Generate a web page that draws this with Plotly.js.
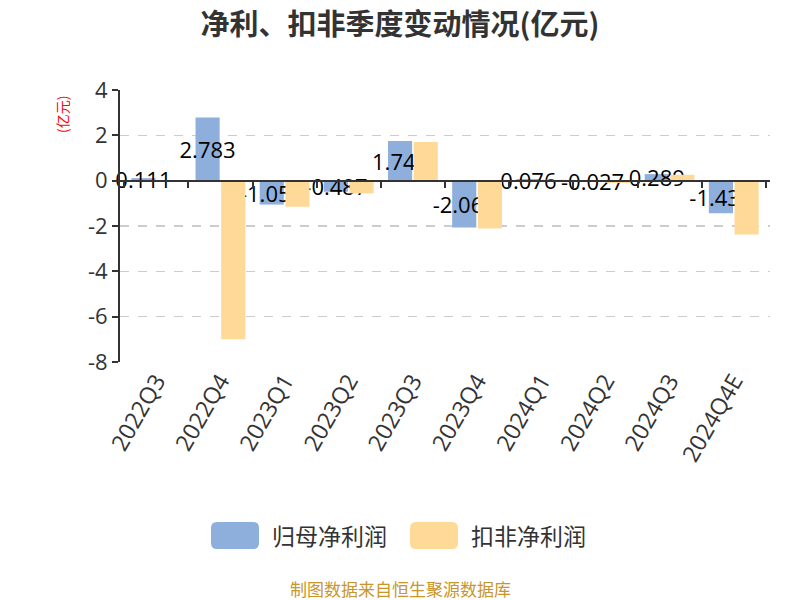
<!DOCTYPE html>
<html>
<head>
<meta charset="utf-8">
<script src="https://cdn.plot.ly/plotly-3.0.1.min.js"></script>
<style>
  body { margin: 0; background: #fff; }
  #chart { width: 800px; height: 600px; }
</style>
</head>
<body>
<div id="chart"></div>
<script>
var quarters = ['2022Q3', '2022Q4', '2023Q1', '2023Q2', '2023Q3', '2023Q4', '2024Q1', '2024Q2', '2024Q3', '2024Q4E'];
var netProfit = [0.111, 2.783, -1.054, -0.487, 1.745, -2.068, 0.076, -0.027, 0.289, -1.436];   // 归母净利润
var deductedProfit = [0.02, -7.0, -1.15, -0.56, 1.71, -2.11, 0.04, -0.10, 0.26, -2.38];     // 扣非净利润
var yTicks = [4, 2, 0, -2, -4, -6, -8];
var seriesNames = ['归母净利润', '扣非净利润'];
var seriesColors = ['#8eaedb', '#ffd997'];

var font = 'Open Sans, Noto Sans CJK SC, sans-serif';
var cjk = 'Noto Sans CJK SC, sans-serif';

// plot area in pixels: x 120..770, y 90..362
function px2x(px) { return (px - 120) / 650; }
function px2y(py) { return (362 - py) / 272; }

// rounded swatch for the custom legend
function swatch(x0, x1, y0, y1, r, color) {
  var a = px2x(x0), b = px2x(x1), t = px2y(y0), u = px2y(y1);
  var rx = r / 650, ry = r / 272;
  var p = 'M' + (a + rx) + ',' + t +
    ' L' + (b - rx) + ',' + t + ' Q' + b + ',' + t + ' ' + b + ',' + (t - ry) +
    ' L' + b + ',' + (u + ry) + ' Q' + b + ',' + u + ' ' + (b - rx) + ',' + u +
    ' L' + (a + rx) + ',' + u + ' Q' + a + ',' + u + ' ' + a + ',' + (u + ry) +
    ' L' + a + ',' + (t - ry) + ' Q' + a + ',' + t + ' ' + (a + rx) + ',' + t + ' Z';
  return {type: 'path', xref: 'paper', yref: 'paper', path: p,
          fillcolor: color, line: {width: 0}};
}

var data = [
  {
    name: seriesNames[0],
    x: quarters,
    y: netProfit,
    type: 'bar',
    text: netProfit.map(String),
    textposition: 'inside',
    insidetextanchor: 'middle',
    textangle: 0,
    constraintext: 'none',
    cliponaxis: false,
    textfont: {family: font, size: 22, color: '#000'},
    marker: {color: seriesColors[0]}
  },
  {
    name: seriesNames[1],
    x: quarters,
    y: deductedProfit,
    type: 'bar',
    marker: {color: seriesColors[1]}
  },
  {
    // empty trace so the tick axis along zero gets drawn
    x: quarters,
    y: quarters.map(function () { return null; }),
    xaxis: 'x2',
    type: 'scatter',
    mode: 'markers',
    showlegend: false,
    hoverinfo: 'skip'
  }
];

var layout = {
  width: 800,
  height: 600,
  paper_bgcolor: '#fff',
  plot_bgcolor: '#fff',
  margin: {l: 120, r: 30, t: 90, b: 238},
  font: {family: font, color: '#333'},
  showlegend: false,
  title: {
    text: '<b>净利、扣非季度变动情况(亿元)</b>',
    x: 0.5, xanchor: 'center',
    y: 0.958, yanchor: 'middle',
    font: {family: cjk, size: 29, color: '#333'}
  },
  barmode: 'group',
  bargap: 0.2,
  bargroupgap: 0.06,
  xaxis: {
    type: 'category',
    categoryarray: quarters,
    tickangle: -60,
    ticks: '',
    showline: false,
    showgrid: false,
    zeroline: false,
    tickfont: {size: 23, color: '#333'}
  },
  xaxis2: {
    type: 'category',
    categoryarray: quarters,
    overlaying: 'x',
    matches: 'x',
    anchor: 'free',
    position: 8 / 12,
    side: 'bottom',
    showticklabels: false,
    tickson: 'boundaries',
    ticks: 'outside',
    ticklen: 6,
    tickwidth: 2,
    tickcolor: '#333',
    showline: true,
    linecolor: '#333',
    linewidth: 2,
    showgrid: false,
    zeroline: false
  },
  yaxis: {
    range: [-8, 4],
    tickvals: yTicks,
    ticktext: yTicks.map(String),
    ticks: 'outside',
    ticklen: 6,
    tickwidth: 2,
    tickcolor: '#333',
    showline: true,
    linecolor: '#333',
    linewidth: 2,
    showgrid: true,
    gridcolor: '#ccc',
    griddash: 'dash',
    gridwidth: 1.5,
    zeroline: false,
    tickfont: {size: 22, color: '#333'}
  },
  shapes: [
    swatch(211, 259, 522, 549, 6, seriesColors[0]),
    swatch(410, 458, 522, 549, 6, seriesColors[1])
  ],
  annotations: [
    {
      text: seriesNames[0],
      xref: 'paper', yref: 'paper',
      x: px2x(270), y: px2y(535),
      xanchor: 'left', yanchor: 'middle',
      showarrow: false,
      font: {family: cjk, size: 23, color: '#333'}
    },
    {
      text: seriesNames[1],
      xref: 'paper', yref: 'paper',
      x: px2x(469), y: px2y(535),
      xanchor: 'left', yanchor: 'middle',
      showarrow: false,
      font: {family: cjk, size: 23, color: '#333'}
    },
    {
      text: '(亿元)',
      xref: 'paper', yref: 'paper',
      x: px2x(62), y: px2y(115),
      xanchor: 'center', yanchor: 'middle',
      textangle: -90,
      showarrow: false,
      font: {family: cjk, size: 14, color: '#f00'}
    },
    {
      text: '制图数据来自恒生聚源数据库',
      xref: 'paper', yref: 'paper',
      x: px2x(400), y: px2y(588),
      xanchor: 'center', yanchor: 'middle',
      showarrow: false,
      font: {family: cjk, size: 17, color: '#c8962a'}
    }
  ]
};

Plotly.newPlot('chart', data, layout, {staticPlot: true});
</script>
</body>
</html>
